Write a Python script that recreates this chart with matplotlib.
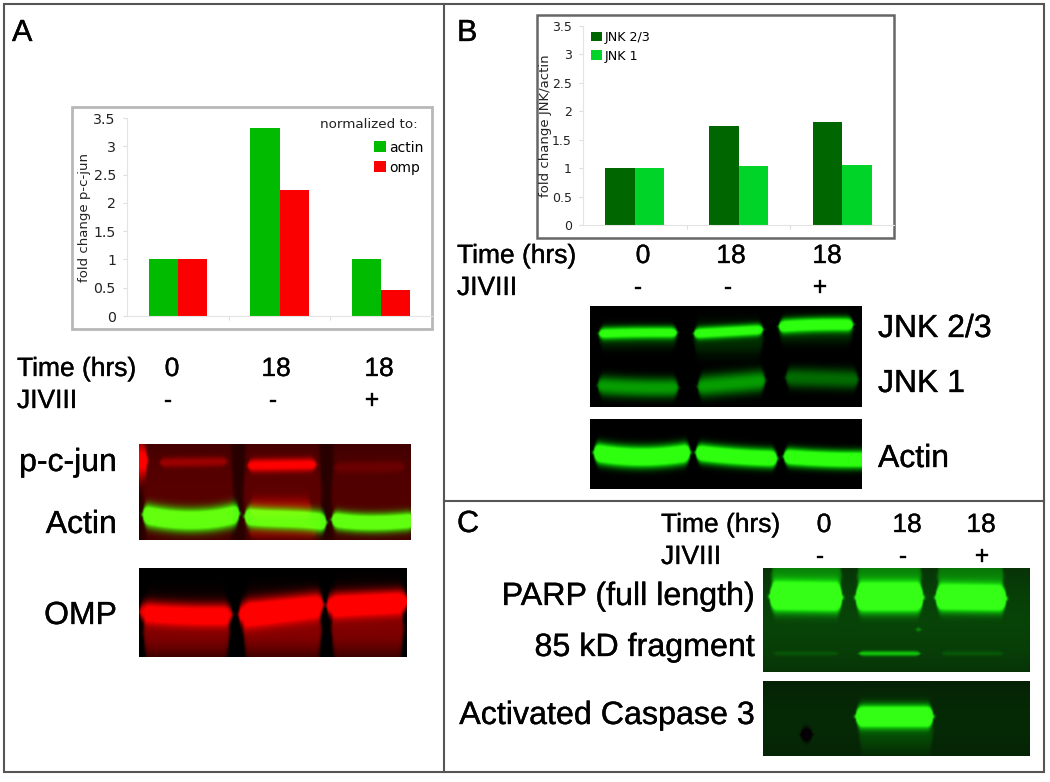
import numpy as np
import matplotlib
matplotlib.use("Agg")
import matplotlib.pyplot as plt
import matplotlib.patheffects as pe
from matplotlib.patches import Rectangle

W, H = 1050, 782
SANS = "Liberation Sans"
CHART = "DejaVu Sans"

# ── Chart values ────────────────────────────────────────────────────────────
time_labels = ["0", "18", "18"]
jiviii_labels = ["-", "-", "+"]
y_ticks = [0, 0.5, 1, 1.5, 2, 2.5, 3, 3.5]
y_tick_labels = ["0", "0.5", "1", "1.5", "2", "2.5", "3", "3.5"]

pcjun_actin = [1.0, 3.33, 1.01]
pcjun_omp = [1.0, 2.23, 0.46]
jnk23 = [1.0, 1.74, 1.81]
jnk1 = [1.0, 1.04, 1.06]

# ── Blot bands: (x0, x1, y centres along the lane, half thickness, amplitude) ──
ab_red = [
    (-8, 8, [16, 16], 20, 0.9),
    (4, 94, [48, 48], 62, 0.18),
    (104, 182, [48, 48], 62, 0.20),
    (192, 274, [48, 48], 62, 0.16),
    (20, 88, [18, 17], 5, 0.30),
    (108, 177, [21, 20], 6.5, 0.72),
    (195, 265, [23, 22], 6, 0.12),
    (110, 172, [64, 64], 11, 0.30),
    (110, 177, [88, 88], 7, 0.22),
]
ab_green = [
    (3, 100, [70, 75, 75, 69], 11, 1.6),
    (105, 187, [72, 74, 75, 78], 10, 1.6),
    (192, 275, [75, 78, 78, 76], 9, 1.5),
]
omp_red = [
    (0, 93, [43, 46, 46], 11, 0.95),
    (99, 184, [46, 41, 36], 13, 1.15),
    (187, 268, [37, 35, 33], 12, 1.2),
    (4, 90, [64, 64], 28, 0.50),
    (104, 182, [62, 62], 30, 0.52),
    (192, 264, [60, 60], 32, 0.50),
]
jnk_green = [
    (8, 87, [27, 26, 26], 6, 1.0),
    (103, 173, [27, 25, 23], 6, 1.1),
    (188, 263, [20, 18, 18], 7, 1.2),
    (8, 87, [30, 30], 11, 0.22),
    (103, 173, [32, 32], 16, 0.18),
    (188, 263, [24, 24], 12, 0.2),
    (7, 88, [79, 81, 81], 10, 0.62),
    (107, 175, [80, 77, 74], 11, 0.62),
    (195, 268, [71, 72, 73], 10, 0.42),
]
actin_green = [
    (3, 100, [33, 37, 37, 33], 10, 1.7),
    (105, 187, [33, 36, 38, 39], 9, 1.6),
    (193, 278, [37, 39, 40, 40], 8.5, 1.6),
]
parp_green = [
    (-5, 270, [52, 52], 80, 0.20),
    (8, 78, [8, 8], 26, 0.32),
    (94, 158, [8, 8], 26, 0.32),
    (174, 240, [8, 8], 22, 0.28),
    (6, 79, [28, 29], 13, 1.7),
    (92, 160, [29, 29], 13, 1.7),
    (172, 243, [29, 30], 12, 1.7),
    (95, 157, [85, 85], 2.4, 0.55),
    (10, 75, [85, 85], 2.2, 0.10),
    (178, 240, [85, 85], 2.2, 0.11),
    (152, 158, [61, 61], 2.5, 0.30),
]
casp_green = [
    (-10, 277, [40, 40], 70, 0.13),
    (95, 170, [48, 48], 22, 0.14),
    (92, 170, [35, 35], 10, 1.7),
    (37, 49, [53, 53], 7, -0.3),
]


def paint(w, h, bands):
    yy, xx = np.mgrid[0:h, 0:w].astype(float)
    out = np.zeros((h, w))
    for x0, x1, ys, thick, amp in bands:
        knots = np.linspace(x0, x1, len(ys))
        curve = np.polyfit(knots, ys, len(ys) - 1)
        yc = np.polyval(curve, np.clip(xx, x0, x1))
        # rounded lane ends
        inset = np.clip(np.minimum(xx - x0, x1 - xx) / 7, 0.02, 1)
        t = thick * np.sqrt(1 - (1 - inset) ** 2)
        fade = 0.5 * (np.tanh((xx - x0) / 1.5) - np.tanh((xx - x1) / 1.5))
        out += amp * fade * np.exp(-np.abs((yy - yc) / t) ** 2.4)
    return out


def soften(rgb):
    # small blur, the reference is a resampled scan
    k = np.array([0.25, 0.5, 0.25])
    for axis in (0, 1):
        rgb = np.apply_along_axis(lambda v: np.convolve(np.pad(v, 1, mode="edge"), k, "valid"),
                                  axis, rgb)
    return rgb


def blot(ax, box, red=None, green=None, base=(0, 0, 0)):
    x0, y0, x1, y1 = box
    w, h = x1 - x0, y1 - y0
    r = paint(w, h, red) if red else np.zeros((h, w))
    g = paint(w, h, green) if green else np.zeros((h, w))
    rgb = np.zeros((h, w, 3))
    rgb[..., 0] = base[0] + r * (1 - 0.7 * np.clip(g, 0, 1)) + 0.18 * np.clip(g, 0, 1) ** 4
    rgb[..., 1] = base[1] + g
    rgb[..., 2] = base[2] + 0.06 * np.clip(g, 0, 1) ** 5
    ax.imshow(soften(np.clip(rgb, 0, 1)), extent=(x0, x1, y1, y0), interpolation="bilinear",
              aspect="auto", zorder=2)


def bar_chart(box, a, b, col_a, col_b, ylabel, label_a, label_b, tick_size, lab_size, labx):
    x0, y_top, x1, y_bot = box
    ax = fig.add_axes([x0 / W, 1 - y_bot / H, (x1 - x0) / W, (y_bot - y_top) / H])
    x = np.arange(3)
    ax.bar(x - 0.143, a, 0.286, color=col_a, label=label_a)
    ax.bar(x + 0.143, b, 0.286, color=col_b, label=label_b)
    ax.set_xlim(-0.5, 2.5)
    ax.set_ylim(0, 3.5)
    ax.set_yticks(y_ticks, y_tick_labels, fontsize=tick_size, family=CHART, color="#222222")
    ax.set_xticks([0.5, 1.5], ["", ""])
    ax.tick_params(axis="both", length=3, color="#dddddd", width=0.8, pad=5)
    for side in ("top", "right"):
        ax.spines[side].set_visible(False)
    for side in ("left", "bottom"):
        ax.spines[side].set_color("#e4e4e4")
    ax.set_ylabel(ylabel, fontsize=lab_size, family=CHART, color="#222222")
    ax.yaxis.set_label_coords(labx, 0.5)
    ax.patch.set_alpha(0)
    return ax


def big(size):
    return dict(fontsize=size, family=SANS, va="center", color="black",
                path_effects=[pe.withStroke(linewidth=0.25, foreground="black")])


def row_labels(ax, x_head, y_time, y_jiv, xs_time, xs_sign):
    ax.text(x_head, y_time, "Time (hrs)", ha="left", **big(19))
    ax.text(x_head, y_jiv, "JIVIII", ha="left", **big(19))
    for xp, t in zip(xs_time, time_labels):
        ax.text(xp, y_time, t, ha="center", **big(19))
    for xp, t in zip(xs_sign, jiviii_labels):
        ax.text(xp, y_jiv, t, ha="center", **big(19))


fig = plt.figure(figsize=(W / 100, H / 100), dpi=100, facecolor="white")
page = fig.add_axes([0, 0, 1, 1])
page.set_xlim(0, W)
page.set_ylim(H, 0)
page.axis("off")

# panel frame
page.add_patch(Rectangle((4, 4), 1040, 768, fill=False, ec="#555555", lw=1.5))
page.plot([444, 444], [4, 772], color="#555555", lw=1.5)
page.plot([444, 1044], [501, 501], color="#555555", lw=1.5)

# chart frames
page.add_patch(Rectangle((72, 107), 360, 222, fc="white", ec="#b8b8b8", lw=2))
page.add_patch(Rectangle((537, 15), 357, 223, fc="white", ec="#666666", lw=1.8))

ax_a = bar_chart((127, 118, 432, 316), pcjun_actin, pcjun_omp, "#00bb00", "#fa0000",
                 "fold change p-c-jun", "actin", "omp", 10.2, 9.5, -0.118)
ax_a.legend(loc="upper left", bbox_to_anchor=(0.81, 0.885), frameon=False,
            handlelength=0.85, handleheight=0.85, handletextpad=0.25, labelspacing=0.42,
            borderaxespad=0, borderpad=0, prop={"family": CHART, "size": 10})

ax_b = bar_chart((583, 26, 894, 225), jnk23, jnk1, "#006600", "#00d428",
                 "fold change JNK/actin", "JNK 2/3", "JNK 1", 9, 9.5, -0.1)
ax_b.legend(loc="upper left", bbox_to_anchor=(0.015, 0.995), frameon=False,
            handlelength=0.8, handleheight=0.8, handletextpad=0.2, labelspacing=0.45,
            borderaxespad=0, borderpad=0.3, prop={"family": CHART, "size": 9.2})
page.text(418, 125, "normalized to:", ha="right", va="center", fontsize=9.7, family=CHART,
          color="#222222", zorder=5)

# blots
blot(page, (139, 444, 411, 540), red=ab_red, green=ab_green, base=(0.16, 0, 0))
blot(page, (139, 568, 407, 657), red=omp_red)
blot(page, (590, 306, 862, 407), green=jnk_green)
blot(page, (590, 419, 862, 489), green=actin_green)
blot(page, (763, 568, 1030, 672), green=parp_green, base=(0.03, 0.06, 0.03))
blot(page, (763, 681, 1030, 756), green=casp_green, base=(0.02, 0.03, 0.02))

# panel letters
page.text(12, 33, "A", **big(22))
page.text(457, 33, "B", **big(22))
page.text(457, 524, "C", **big(22))

row_labels(page, 17, 369, 401, [172, 276, 379], [168, 273, 372])
row_labels(page, 457, 256, 288, [643, 731, 827], [638, 728, 820])
row_labels(page, 661, 525, 557, [824, 907, 981], [820, 903, 982])

# blot labels
page.text(117, 463, "p-c-jun", ha="right", **big(23))
page.text(117, 525, "Actin", ha="right", **big(23))
page.text(117, 616, "OMP", ha="right", **big(23))
page.text(878, 329, "JNK 2/3", ha="left", **big(23))
page.text(878, 384, "JNK 1", ha="left", **big(23))
page.text(878, 459, "Actin", ha="left", **big(23))
page.text(755, 597, "PARP (full length)", ha="right", **big(23.2))
page.text(755, 648, "85 kD fragment", ha="right", **big(23.2))
page.text(755, 716, "Activated Caspase 3", ha="right", **big(23.2))

fig.savefig("out.png", dpi=100)
